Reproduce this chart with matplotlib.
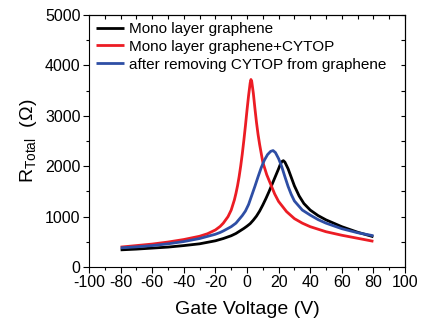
import matplotlib
matplotlib.use("Agg")
import matplotlib.pyplot as plt
from matplotlib.ticker import MultipleLocator

plt.rcParams['font.family'] = ['Liberation Sans', 'DejaVu Sans']
plt.rcParams['mathtext.fontset'] = 'custom'
plt.rcParams['mathtext.rm'] = 'Liberation Sans'
plt.rcParams['mathtext.it'] = 'Liberation Sans:italic'
plt.rcParams['axes.unicode_minus'] = False

# Mono layer graphene
v_black = [-80, -70, -60, -50, -40, -30, -20, -15, -10, -7, -5, -2, 0, 2, 4, 6, 8, 10, 12, 14, 16, 18, 20, 21,
           22, 23, 24, 26, 28, 30, 33, 36, 40, 45, 50, 60, 70, 80]
r_black = [340, 355, 375, 395, 425, 460, 520, 565, 620, 665, 705, 765, 810, 860, 930, 1010, 1110, 1230, 1360,
           1500, 1650, 1800, 1950, 2030, 2090, 2110, 2080, 1950, 1780, 1610, 1410, 1260, 1130, 1020, 935, 800,
           690, 600]

# Mono layer graphene + CYTOP
v_red = [-80, -70, -60, -50, -40, -30, -25, -20, -17, -15, -12, -10, -8, -7, -6, -5, -4, -3, -2, -1, 0, 1, 2,
         2.5, 3, 4, 5, 6, 7, 8, 10, 12.5, 15, 17.5, 20, 25, 30, 35, 40, 50, 60, 70, 80]
r_red = [395, 425, 455, 495, 545, 610, 660, 735, 805, 870, 1000, 1130, 1330, 1460, 1610, 1790, 2000, 2240,
         2510, 2800, 3110, 3400, 3650, 3720, 3680, 3450, 3150, 2870, 2630, 2430, 2080, 1830, 1640, 1450, 1300,
         1100, 960, 870, 800, 700, 630, 570, 510]

# after removing CYTOP from graphene
v_blue = [-80, -70, -60, -50, -40, -30, -20, -17, -15, -10, -7, -5, -3, -1, 1, 3, 5, 7, 9, 11, 13, 15, 16.5,
          18, 20, 22, 24, 26, 28, 30, 35, 40, 45, 50, 60, 70, 80]
r_blue = [380, 400, 425, 460, 505, 565, 650, 685, 715, 800, 870, 945, 1020, 1110, 1240, 1420, 1600, 1790, 1970,
          2120, 2230, 2295, 2310, 2270, 2150, 1990, 1790, 1600, 1440, 1310, 1130, 1030, 940, 870, 760, 680, 620]

labels = ["Mono layer graphene", "Mono layer graphene+CYTOP", "after removing CYTOP from graphene"]
colors = ["#000000", "#ec1c24", "#2e4ea5"]

fig = plt.figure(figsize=(4.24, 3.23), dpi=100)
ax = fig.add_axes([89/424, 1-267/323, (405-89)/424, (267-15)/323])

for v, r, c, lab in [(v_black, r_black, colors[0], labels[0]),
                     (v_red, r_red, colors[1], labels[1]),
                     (v_blue, r_blue, colors[2], labels[2])]:
    ax.plot(v, r, color=c, lw=2, label=lab, solid_joinstyle='round', solid_capstyle='butt')

ax.set_xlim(-100, 100)
ax.set_ylim(0, 5000)
ax.xaxis.set_major_locator(MultipleLocator(20))
ax.xaxis.set_minor_locator(MultipleLocator(10))
ax.yaxis.set_major_locator(MultipleLocator(1000))
ax.yaxis.set_minor_locator(MultipleLocator(500))
ax.tick_params(which='both', direction='out', labelsize=11.5, width=0.8, pad=2)
ax.tick_params(which='major', length=4)
ax.tick_params(which='minor', length=2.5)
for s in ax.spines.values():
    s.set_linewidth(0.8)

secx = ax.secondary_xaxis('top')
secx.xaxis.set_major_locator(MultipleLocator(10))
secx.tick_params(direction='in', length=3, width=0.8, labeltop=False)
secy = ax.secondary_yaxis('right')
secy.yaxis.set_major_locator(MultipleLocator(500))
secy.tick_params(direction='in', length=3, width=0.8, labelright=False)

ax.set_xlabel("Gate Voltage (V)", fontsize=14, labelpad=8)
ax.set_ylabel(r"R$_{\mathrm{Total}}$  (Ω)", fontsize=14, labelpad=4)

ax.legend(loc='upper left', bbox_to_anchor=(0, 1), frameon=False, fontsize=11,
          handlelength=1.85, handletextpad=0.3, labelspacing=0.25, borderpad=0.45, borderaxespad=0)

fig.savefig("out.png", dpi=100)
